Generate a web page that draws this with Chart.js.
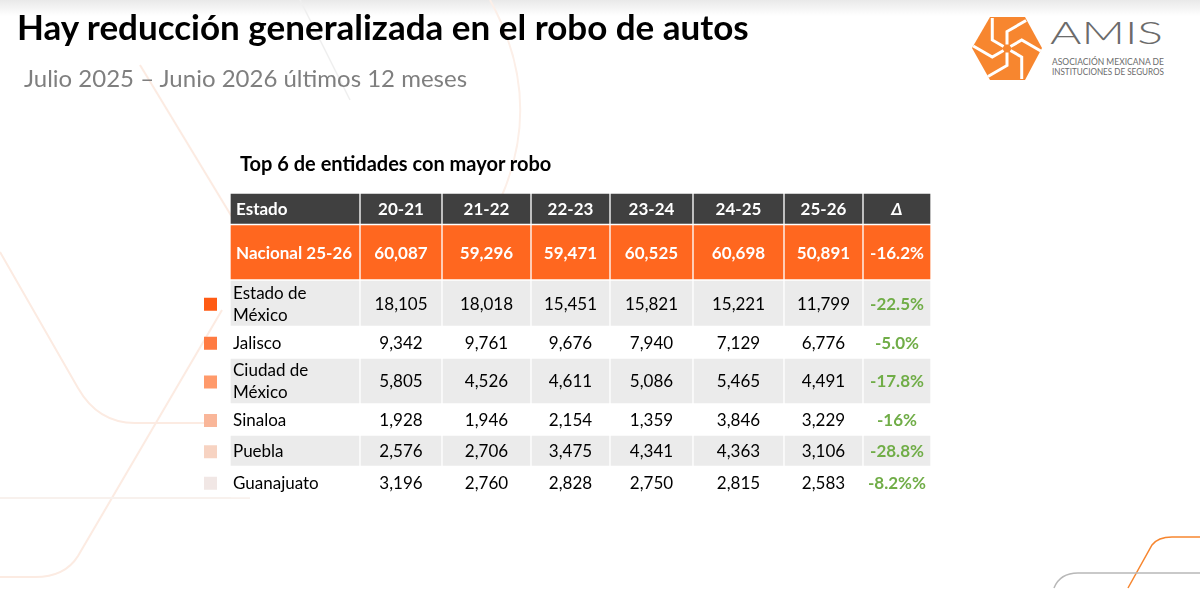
<!DOCTYPE html>
<html lang="es">
<head>
<meta charset="utf-8">
<title>Robo de autos - Top 6 entidades</title>
<script src="https://cdn.jsdelivr.net/npm/chart.js@4.4.1/dist/chart.umd.min.js"></script>
<style>
  html, body { margin: 0; padding: 0; background: #fff; }
  body { width: 1200px; height: 600px; position: relative; overflow: hidden; font-family: Lato, "Noto Sans", sans-serif; }
  #fondo { position: absolute; left: 0; top: 0; }
  #caja { position: absolute; left: 0; top: 0; width: 1200px; height: 600px; }
  .txt { position: absolute; white-space: nowrap; line-height: 1; margin: 0; }
  #titulo { left: 17px; top: 9px; font-size: 35px; font-weight: 700; color: #000; }
  #subtitulo { left: 24px; top: 66px; font-size: 24px; color: #7f7f7f; }
  #tituloTabla { left: 240px; top: 153px; font-size: 20px; font-weight: 700; color: #000; }
</style>
</head>
<body>
<svg id="fondo" width="1200" height="600" xmlns="http://www.w3.org/2000/svg">
  <defs>
    <linearGradient id="sombra" x1="0" y1="0" x2="0" y2="1">
      <stop offset="0" stop-color="#e9e9e9"/>
      <stop offset="1" stop-color="#ffffff"/>
    </linearGradient>
  </defs>
  <rect x="0" y="0" width="1200" height="16" fill="url(#sombra)"/>
  <g fill="none" stroke="#fcebe2" stroke-width="2">
    <path d="M 140 65 L 235 222"/>
    <path d="M 0 252 L 78 388 Q 98 423 135 423 L 215 423"/>
    <path d="M 222 310 L 78 556 Q 65 577 35 577 L 0 577"/>
    <path d="M 0 498 L 250 498" stroke="#f8f1ed"/>
    <path d="M 490 0 Q 545 100 500 200" stroke="#fcefe8"/>
  </g>
  <path d="M 300 0 L 350 100" fill="none" stroke="#efefef" stroke-width="1.5"/>
  <path d="M 1128 588 L 1152 545 Q 1158 537 1172 537 L 1200 537" fill="none" stroke="#f7862f" stroke-width="1.5"/>
  <path d="M 1054 588 Q 1060 573 1078 573 L 1200 573" fill="none" stroke="#b8b8b8" stroke-width="1.5"/>
  <g id="logo">
    <polygon points="972,48 990,17 1025,17 1042,48 1025,80 990,80" fill="#f7862f"/>
    <g id="aspas" fill="none" stroke="#fff" stroke-width="3" stroke-linejoin="miter"></g>
    <text x="1050" y="44" font-family="Lato, sans-serif" font-size="32" font-weight="300" fill="#6b6b6b" textLength="113" lengthAdjust="spacingAndGlyphs">AMIS</text>
    <text x="1052" y="65" font-family="Lato, sans-serif" font-size="8.5" fill="#6b6b6b" textLength="112" lengthAdjust="spacingAndGlyphs">ASOCIACIÓN MEXICANA DE</text>
    <text x="1052" y="75" font-family="Lato, sans-serif" font-size="8.5" fill="#6b6b6b" textLength="112" lengthAdjust="spacingAndGlyphs">INSTITUCIONES DE SEGUROS</text>
  </g>
</svg>
<div id="caja"><canvas id="tabla" width="1200" height="600"></canvas></div>
<h1 class="txt" id="titulo">Hay reducción generalizada en el robo de autos</h1>
<div class="txt" id="subtitulo">Julio 2025 – Junio 2026 últimos 12 meses</div>
<div class="txt" id="tituloTabla">Top 6 de entidades con mayor robo</div>
<script>
// datos
const periodos = ['20-21', '21-22', '22-23', '23-24', '24-25', '25-26'];
const nacional = [60087, 59296, 59471, 60525, 60698, 50891];
const deltaNacional = '-16.2%';
const estados = ['Estado de\nMéxico', 'Jalisco', 'Ciudad de\nMéxico', 'Sinaloa', 'Puebla', 'Guanajuato'];
const edomex = [18105, 18018, 15451, 15821, 15221, 11799];
const jalisco = [9342, 9761, 9676, 7940, 7129, 6776];
const cdmx = [5805, 4526, 4611, 5086, 5465, 4491];
const sinaloa = [1928, 1946, 2154, 1359, 3846, 3229];
const puebla = [2576, 2706, 3475, 4341, 4363, 3106];
const guanajuato = [3196, 2760, 2828, 2750, 2815, 2583];
const deltas = ['-22.5%', '-5.0%', '-17.8%', '-16%', '-28.8%', '-8.2%%'];

// layout de la tabla (px de la página)
const bordesCol = [230, 360, 442, 531, 610, 693, 784, 863, 931];
const bordesFila = [193, 224.5, 280, 326.5, 358, 404, 435, 466.5, 498];
const xMarcador = 210.5;

// colores
const fondoFila = ['#404040', '#ff671f', '#ebebeb', '#ffffff', '#ebebeb', '#ffffff', '#ebebeb', '#ffffff'];
const colorMarcador = ['#ff5b14', '#ff7b42', '#ff9a6b', '#f9b699', '#f7d3c2', '#f1e7e5'];
const verde = '#70ad47';

// aspas del logo
(function () {
  const g = document.getElementById('aspas');
  const cx = 1007, cy = 48.5;
  for (let k = 0; k < 6; k++) {
    const a = k * Math.PI / 3 + Math.PI / 6, b = a + Math.PI / 3;
    const p0 = [cx + 4 * Math.cos(a), cy + 4 * Math.sin(a)];
    const p1 = [cx + 17 * Math.cos(a), cy + 17 * Math.sin(a)];
    const p2 = [p1[0] + 22 * Math.cos(b), p1[1] + 22 * Math.sin(b)];
    const p = document.createElementNS('http://www.w3.org/2000/svg', 'path');
    p.setAttribute('d', `M ${p0[0]} ${p0[1]} L ${p1[0]} ${p1[1]} L ${p2[0]} ${p2[1]}`);
    g.appendChild(p);
  }
})();

const fmt = n => n.toLocaleString('en-US');
const series = [edomex, jalisco, cdmx, sinaloa, puebla, guanajuato];

const textosFilas = [
  ['Estado', ...periodos, 'Δ'],
  ['Nacional 25-26', ...nacional.map(fmt), deltaNacional],
  ...estados.map((e, i) => [e, ...series[i].map(fmt), deltas[i]])
];

function estiloCelda(fila, col) {
  if (fila === 0) {
    return { font: (col === 7 ? 'italic ' : '') + 'bold 17px Lato, sans-serif', color: '#fff', pad: 5 };
  }
  if (fila === 1) return { font: 'bold 17px Lato, sans-serif', color: '#fff', pad: 5 };
  if (col === 7) return { font: 'bold 17px Lato, sans-serif', color: verde, pad: 2 };
  return { font: '17px Lato, sans-serif', color: '#000', pad: 2 };
}

const filasDatasets = textosFilas.map((textos, i) => {
  const centro = (bordesFila[i] + bordesFila[i + 1]) / 2;
  return {
    type: 'bar',
    indexAxis: 'y',
    grouped: false,
    barThickness: bordesFila[i + 1] - bordesFila[i] - 2,
    backgroundColor: fondoFila[i],
    data: textos.map((t, j) => ({ x: [bordesCol[j] + 1, bordesCol[j + 1] - 1], y: centro })),
    textos: textos,
    fila: i
  };
});

const marcadores = {
  type: 'scatter',
  data: estados.map((e, i) => ({ x: xMarcador, y: (bordesFila[i + 2] + bordesFila[i + 3]) / 2 + 1 })),
  pointStyle: 'rect',
  pointRadius: 9.2,
  borderWidth: 0,
  backgroundColor: colorMarcador
};

// texto de cada celda, centrado en su barra
const textoCeldas = {
  id: 'textoCeldas',
  afterDatasetsDraw(chart) {
    const ctx = chart.ctx;
    chart.data.datasets.forEach((ds, i) => {
      if (!ds.textos) return;
      chart.getDatasetMeta(i).data.forEach((bar, j) => {
        const izq = Math.min(bar.x, bar.base);
        const der = Math.max(bar.x, bar.base);
        const st = estiloCelda(ds.fila, j);
        const lineas = String(ds.textos[j]).split('\n');
        ctx.save();
        ctx.font = st.font;
        ctx.fillStyle = st.color;
        ctx.textBaseline = 'middle';
        ctx.textAlign = j === 0 ? 'left' : 'center';
        const x = j === 0 ? izq + st.pad : (izq + der) / 2;
        lineas.forEach((l, k) => {
          ctx.fillText(l, x, bar.y + 1 + (k - (lineas.length - 1) / 2) * 22);
        });
        ctx.restore();
      });
    });
  }
};

new Chart(document.getElementById('tabla'), {
  type: 'bar',
  data: { datasets: [...filasDatasets, marcadores] },
  options: {
    responsive: false,
    animation: false,
    events: [],
    layout: { padding: 0, autoPadding: false },
    plugins: { legend: { display: false }, tooltip: { enabled: false } },
    scales: {
      x: { type: 'linear', min: 0, max: 1200, offset: false, display: false },
      y: { type: 'linear', min: 0, max: 600, offset: false, reverse: true, display: false }
    }
  },
  plugins: [textoCeldas]
});
</script>
</body>
</html>
